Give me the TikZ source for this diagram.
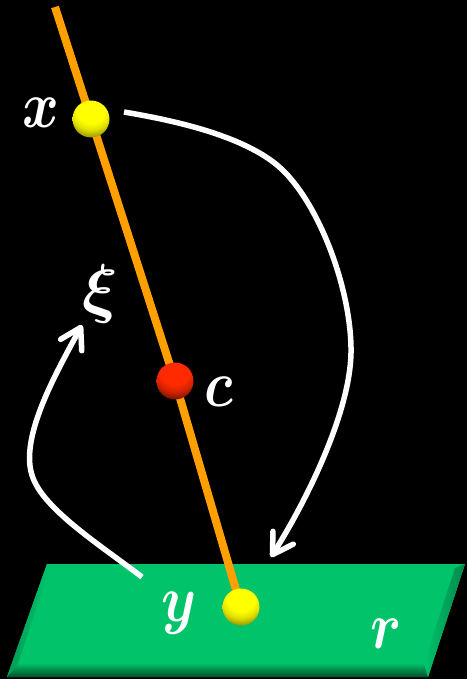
\documentclass[tikz,border=0pt]{standalone}
\usepackage{fontspec}
\setmainfont{Liberation Serif}
\usetikzlibrary{arrows.meta}
\DeclareFontShape{OML}{cmm}{b}{it}{<->cmmib10}{}
\newcommand{\tallglyph}[1]{\scalebox{0.98}[1.16]{\fontsize{57}{57}\selectfont\boldmath$#1$}}
\definecolor{ballHi}{HTML}{FFFF00}
\definecolor{redHi}{HTML}{FF2A00}
\definecolor{plate}{HTML}{00C36A}
\definecolor{rod}{HTML}{FFA000}
\pgfdeclareradialshading{ballY}{\pgfpoint{0bp}{0bp}}{
 color(0bp)=(ballHi); color(12bp)=(ballHi); color(17.5bp)=(ballHi!88!black); color(24bp)=(ballHi!58!black); color(50bp)=(ballHi!55!black)}
\pgfdeclareradialshading{ballR}{\pgfpoint{0bp}{0bp}}{
 color(0bp)=(redHi); color(12bp)=(redHi); color(17.5bp)=(redHi!82!black); color(24bp)=(redHi!45!black); color(50bp)=(redHi!42!black)}
\pgfdeclarelayer{front}
\pgfsetlayers{main,front}
\tikzset{
 x=1pt,y=-1pt,
 ball/.style={circle,minimum size=37pt,inner sep=0pt,
   path picture={\shade[shading=ballY] (-30,-40) rectangle (30,20);}},
 redball/.style={circle,minimum size=37pt,inner sep=0pt,
   path picture={\shade[shading=ballR] (-30,-40) rectangle (30,20);}},
 lbl/.style={text=white,font=\fontsize{57}{57}\selectfont\boldmath,inner sep=0pt},
 rodline/.style={rod,line width=8pt},
 curve/.style={draw=white,line width=5.5pt,-{Straight Barb[round,length=20pt,width=24pt,line width=5.5pt]}},
}
\begin{document}
\begin{tikzpicture}
\useasboundingbox[fill=black] (0,0) rectangle (467,679);
\fill[plate] (47,564) -- (465,564) -- (428,677) -- (7,677) -- cycle;
\shade[top color=plate,bottom color=plate!40!black] (18,663) -- (424,663) -- (428,677) -- (7,677) -- cycle;
\shade[left color=plate!80!black,right color=plate] (7,677) -- (47,564) -- (50,567) -- (18,663) -- cycle;
\shade[left color=plate,right color=plate!70!black] (455,568) -- (465,564) -- (428,677) -- (424,663) -- cycle;
\coordinate (top) at (55,7);
\begin{pgfonlayer}{front}
\node[ball] (bx) at (91,119) {};
\node[redball] (bc) at (175,381) {};
\node[ball] (by) at (241,607) {};
\end{pgfonlayer}
\draw[rodline] (top) -- (bx.center);
\draw[rodline] (bx.center) -- (bc.center);
\draw[rodline] (bc.center) -- (by.center);
\node[lbl] (lx) at (41,113) {\tallglyph{x}};
\node[lbl] (lc) at (219,392) {\tallglyph{c}};
\node[lbl] (ly) at (179,613) {\tallglyph{y}};
\node[lbl] (lr) at (386,634) {\tallglyph{r}};
\node[lbl,font=\fontsize{66}{66}\selectfont\boldmath] (lxi) at (100,294) {$\xi$};
\coordinate (s1) at (124,112);
\coordinate (e1) at (271,557);
\coordinate (s2) at (142,577);
\coordinate (e2) at (82,325);
\draw[curve] (s1) .. controls (165,119) and (238,133) .. (277,165) .. controls (318,199) and (352,290) .. (351,353) .. controls (350,410) and (310,495) .. (e1);
\draw[curve] (s2) .. controls (100,545) and (45,510) .. (33,478) .. controls (18,440) and (55,375) .. (e2);
\end{tikzpicture}
\end{document}
